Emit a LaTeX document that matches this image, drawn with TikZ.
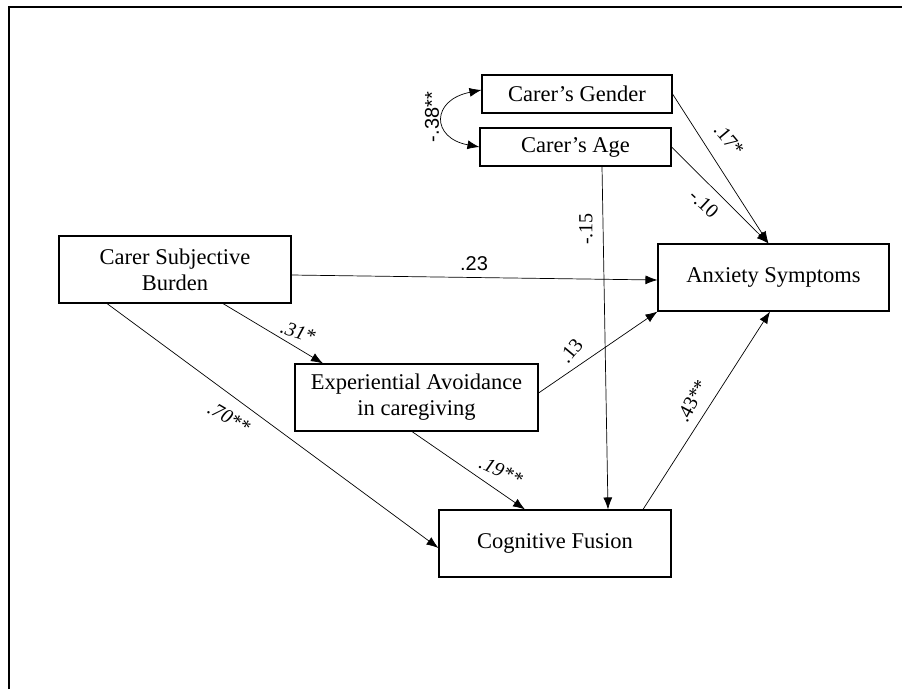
\documentclass[tikz,border=0pt]{standalone}
\usepackage{fontspec}
\setmainfont{Liberation Serif}
\newfontfamily\labsans{Liberation Sans}
\usetikzlibrary{arrows.meta}

\begin{document}
\begin{tikzpicture}[x=1pt,y=-1pt,
  var/.style={draw,line width=1.1pt,minimum width=#1,minimum height=67pt,inner sep=0pt,align=center,font=\fontsize{22.5}{26}\selectfont},
  smallvar/.style={var=#1,minimum height=38pt},
  path/.style={-{Latex[length=12pt,width=9pt]},line width=0.7pt},
  coef/.style={font=\fontsize{20}{22}\selectfont,inner sep=0pt}]
\useasboundingbox (0,0) rectangle (902,689);
\draw[line width=2pt] (9,689) -- (9,7) -- (902,7);
\node[smallvar=190pt] (gender) at (577,94) {Carer's Gender};
\node[smallvar=191pt] (age) at (575.5,147) {Carer's Age};
\node[var=231pt] (anx) at (773.5,277.5) {Anxiety Symptoms};
\node[var=232pt] (burden) at (175,269.5) {Carer Subjective\\Burden};
\node[var=243pt] (eav) at (416.5,397.5) {Experiential Avoidance\\in caregiving};
\node[var=232pt] (fusion) at (555,543.5) {Cognitive Fusion};
\coordinate (anxtop) at ([xshift=-5pt]anx.north);
\draw[{Latex[length=12pt,width=9pt]}-{Latex[length=12pt,width=9pt]},line width=0.7pt] ([yshift=4pt]gender.west) .. controls (431,100) and (431,138) .. (age.west);
\draw[path] (gender.east) -- (anxtop);
\draw[path] (age.east) -- (anxtop);
\draw[path] ([xshift=26.5pt]age.south) -- ([xshift=53pt]fusion.north);
\draw[path] ([yshift=-5.5pt]burden.east) -- ([yshift=-2.5pt]anx.west);
\draw[path] ([xshift=48pt]burden.south) -- ([xshift=-93.5pt]eav.north);
\draw[path] ([xshift=-68pt]burden.south) -- ([yshift=-4.5pt]fusion.west);
\draw[path] ([yshift=4.5pt]eav.east) -- (anx.south west);
\draw[path] ([xshift=-4.5pt]eav.south) -- ([xshift=-30pt]fusion.north);
\draw[path] ([xshift=88pt]fusion.north) -- ([xshift=-3.5pt]anx.south);
\node[coef,rotate=90] (c38) at (432,117) {\labsans -.38**};
\node[coef,rotate=-50] (c17) at (729,140) {.17*};
\node[coef,rotate=-43] (c10) at (704,204) {-.10};
\node[coef,rotate=90] (c15) at (586,229) {-.15};
\node[coef] (c23) at (474,264) {\labsans .23};
\node[coef,rotate=-18] (c31) at (298,332) {\itshape .31*};
\node[coef,rotate=50] (c13) at (571,351) {.13};
\node[coef,rotate=-30] (c70) at (229,418) {\itshape .70**};
\node[coef,rotate=62] (c43) at (692,401) {.43**};
\node[coef,rotate=-25] (c19) at (501,471) {\itshape .19**};
\end{tikzpicture}
\end{document}
